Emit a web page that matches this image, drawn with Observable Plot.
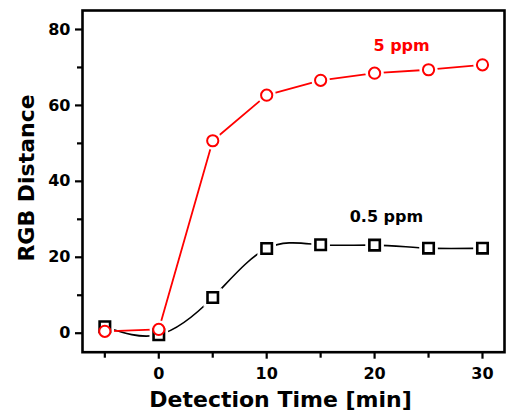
<!DOCTYPE html>
<html><head><meta charset="utf-8">
<script src="https://cdn.jsdelivr.net/npm/d3@7"></script>
<script src="https://cdn.jsdelivr.net/npm/@observablehq/plot@0.6"></script>
<style>
body{margin:0;background:#fff}
</style>
</head><body><div id="chart"></div>
<script>
const times = [-5, 0, 5, 10, 15, 20, 25, 30];
const high5ppm = [0.5, 1.0, 50.7, 62.7, 66.6, 68.5, 69.4, 70.7];
const low05ppm = [1.7, -0.4, 9.4, 22.3, 23.3, 23.2, 22.4, 22.4];
const xMajorTicks = [0, 10, 20, 30];
const xMinorTicks = [-5, 5, 15, 25];
const yMajorTicks = [0, 20, 40, 60, 80];
const yMinorTicks = [10, 30, 50, 70];
const seriesLabels = ["5 ppm", "0.5 ppm"];
const labelAtTime = [22.5, 21.1];
const labelAtValue = [75.7, 30.7];
const xTitle = "Detection Time [min]";
const yTitle = "RGB Distance";

const highRows = times.map((t, i) => ({t, v: high5ppm[i]}));
const lowRows = times.map((t, i) => ({t, v: low05ppm[i]}));
const labelRows = seriesLabels.map((s, i) => ({s, t: labelAtTime[i], v: labelAtValue[i], c: i === 0 ? "#ff0000" : "#000000"}));

const font = "DejaVu Sans, Verdana, sans-serif";

const chart = Plot.plot({
  width: 508,
  height: 414,
  marginLeft: 82,
  marginRight: 4,
  marginTop: 10,
  marginBottom: 62.3,
  x: {domain: [-7.07, 32.04]},
  y: {domain: [-5, 85]},
  style: {fontFamily: font, fontWeight: "bold", color: "black", background: "white"},
  marks: [
    Plot.line(lowRows, {x: "t", y: "v", curve: "natural", stroke: "black", strokeWidth: 1.6}),
    Plot.dot(lowRows, {x: "t", y: "v", symbol: "square", r: 10.5, fill: "white", stroke: "none"}),
    Plot.line(highRows, {x: "t", y: "v", stroke: "#ff0000", strokeWidth: 1.8}),
    Plot.dot(highRows, {x: "t", y: "v", symbol: "circle", r: 9.2, fill: "white", stroke: "none"}),
    Plot.dot(lowRows, {x: "t", y: "v", symbol: "square", r: 5.9, fill: "white", stroke: "black", strokeWidth: 2.6}),
    Plot.dot(highRows, {x: "t", y: "v", symbol: "circle", r: 5.6, fill: "white", stroke: "#ff0000", strokeWidth: 2}),
    Plot.text(labelRows, {x: "t", y: "v", text: "s", fill: "c", fontSize: 16, fontWeight: "bold", textAnchor: "middle", lineAnchor: "middle"}),
    Plot.frame({stroke: "black", strokeWidth: 2.6}),
    Plot.axisY(yMajorTicks, {tickSize: 7, tickPadding: 5, strokeWidth: 2.2, fontSize: 16, fontWeight: "bold", label: null}),
    Plot.axisY(yMinorTicks, {tickSize: 5, strokeWidth: 2.2, text: null, label: null}),
    Plot.axisX(xMajorTicks, {tickSize: 7, tickPadding: 8, strokeWidth: 2.2, fontSize: 16, fontWeight: "bold", label: null}),
    Plot.axisX(xMinorTicks, {tickSize: 6, strokeWidth: 2.2, text: null, label: null}),
    Plot.text([yTitle], {frameAnchor: "left", rotate: -90, dx: -56, dy: -3.4, textAnchor: "middle", lineAnchor: "middle", fontSize: 22, fontWeight: "bold"}),
    Plot.text([xTitle], {frameAnchor: "bottom", dx: -13, dy: 47.3, textAnchor: "middle", lineAnchor: "middle", fontSize: 22, fontWeight: "bold"})
  ]
});
document.getElementById("chart").append(chart);
</script>
</body></html>
